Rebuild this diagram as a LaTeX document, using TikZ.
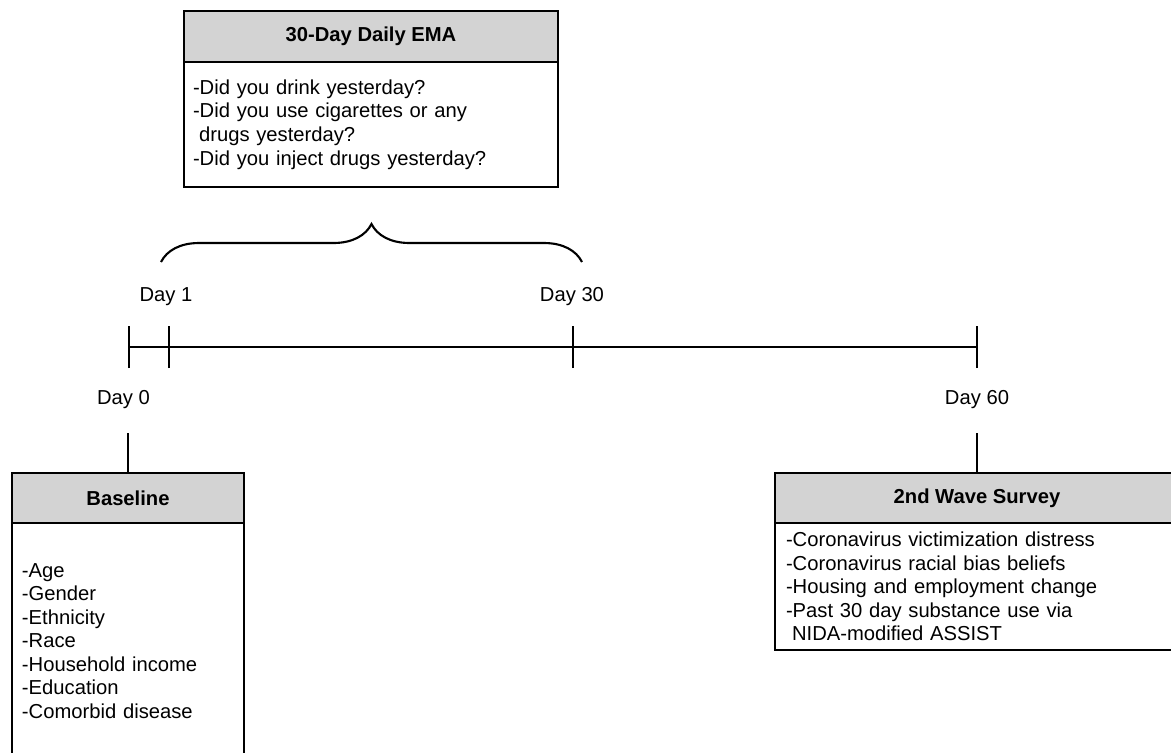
\documentclass[tikz,border=0pt]{standalone}
\usepackage{fontspec}
\setmainfont{Liberation Sans}
\usetikzlibrary{positioning,decorations.pathreplacing,calc}
\usepackage{xcolor}
\definecolor{headgray}{RGB}{211,211,211}

\begin{document}
\begin{tikzpicture}[font=\fontsize{5.75}{6.7}\selectfont, line width=0.6pt]

\useasboundingbox (0,0) rectangle (11.71,7.52);
\clip (0,0) rectangle (11.71,7.52);

\tikzstyle{head} = [rectangle, draw, fill=headgray, minimum height=0.5cm, inner sep=0pt, outer sep=0pt, font=\fontsize{5.75}{6.7}\selectfont\bfseries];
\tikzstyle{body} = [rectangle, draw, fill=white, inner ysep=0pt, outer sep=0pt, align=left];
\tikzstyle{daylabel} = [minimum height=0.64cm, inner sep=0pt];

% Box atas - EMA harian
\node (emahead) [head, minimum width=3.74cm, minimum height=0.51cm] at (3.71,7.155) {30-Day Daily EMA};
\node (emabody) [body, text width=3.56cm, inner xsep=0.09cm, minimum height=1.25cm, below=0cm of emahead] {-Did you drink yesterday?\\-Did you use cigarettes or any\\\hspace*{0.3em}drugs yesterday?\\-Did you inject drugs yesterday?};

% Garis waktu
\coordinate (d0) at (1.29,4.05);
\coordinate (d1) at (1.69,4.05);
\coordinate (d30) at (5.73,4.05);
\coordinate (d60) at (9.77,4.05);
\draw (d0) -- (d60);
\foreach \d in {d0,d1,d30,d60}
  \draw ([yshift=-0.21cm]\d) -- ([yshift=0.21cm]\d);

\node (day1) [daylabel] at (1.66,4.55) {Day 1};
\node (day30) [daylabel] at (5.72,4.55) {Day 30};
\node (day0) [daylabel] at (1.235,3.52) {Day 0};
\node (day60) [daylabel] at (9.77,3.52) {Day 60};

% Kurung kurawal
\coordinate (braceL) at (1.61,4.90);
\coordinate (braceR) at (5.82,4.90);
\draw[decorate, decoration={brace, amplitude=0.38cm}] (braceL) -- (braceR);

% Box bawah - Baseline dan survei kedua
\node (basehead) [head, minimum width=2.32cm] at (1.28,2.54) {Baseline};
\node (basebody) [body, text width=2.12cm, inner xsep=0.1cm, minimum height=2.36cm, below=0cm of basehead] {-Age\\-Gender\\-Ethnicity\\-Race\\-Household income\\-Education\\-Comorbid disease};

\node (wavehead) [head, minimum width=4.04cm] at (9.77,2.54) {2nd Wave Survey};
\node (wavebody) [body, text width=3.82cm, inner xsep=0.11cm, minimum height=1.27cm, below=0cm of wavehead] {-Coronavirus victimization distress\\-Coronavirus racial bias beliefs\\-Housing and employment change\\-Past 30 day substance use via\\\hspace*{0.3em}NIDA-modified ASSIST};

% Koneksi
\draw (basehead.north) -- (basehead.north |- day0.south);
\draw (wavehead.north) -- (wavehead.north |- day60.south);

\end{tikzpicture}
\end{document}
